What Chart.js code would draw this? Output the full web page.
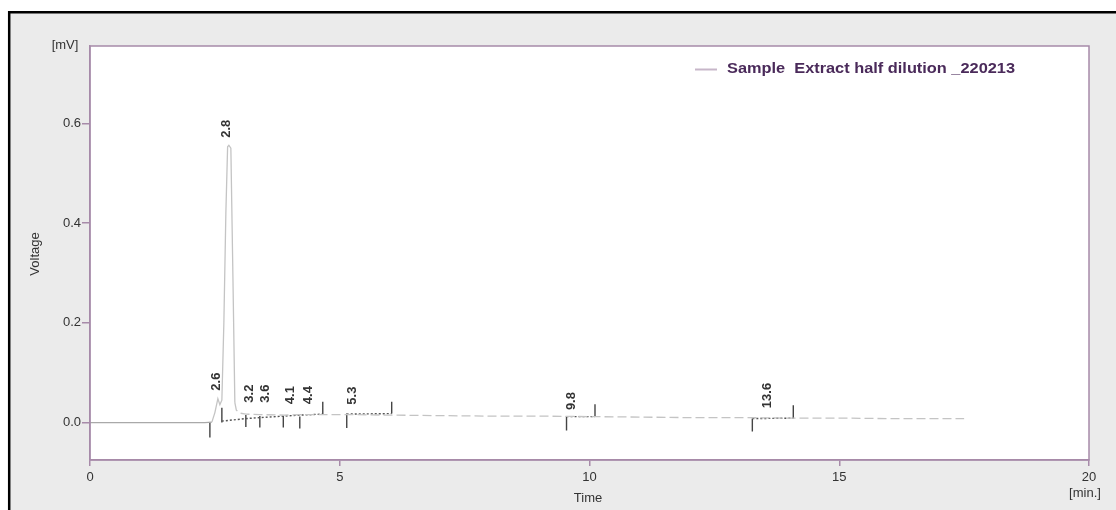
<!DOCTYPE html>
<html>
<head>
<meta charset="utf-8">
<script src="https://cdn.jsdelivr.net/npm/chart.js@4.4.0/dist/chart.umd.min.js"></script>
<style>
  html, body { margin: 0; padding: 0; background: #ffffff; }
  #wrap { width: 1116px; height: 510px; }
</style>
</head>
<body>
<div id="wrap"><canvas id="c" width="1116" height="510"></canvas></div>
<script>
// ---- data ----
const traceTimes  = [0, 2.30, 2.44, 2.50, 2.56, 2.60, 2.64, 2.68, 2.72, 2.755, 2.78, 2.82, 2.86, 2.90, 2.93, 3.00, 3.12, 3.40, 3.90, 4.30, 4.70, 5.20, 6.00, 7.00, 8.00, 9.00, 10.0, 11.0, 12.0, 13.0, 14.0, 15.0, 16.0, 17.0, 17.5];
const traceValues = [0, 0, 0.001, 0.020, 0.048, 0.036, 0.045, 0.200, 0.420, 0.553, 0.556, 0.550, 0.300, 0.040, 0.025, 0.019, 0.017, 0.016, 0.015, 0.016, 0.016, 0.016, 0.015, 0.014, 0.013, 0.013, 0.012, 0.011, 0.010, 0.010, 0.009, 0.009, 0.008, 0.008, 0.008];

const markerTimes = [2.40, 2.64, 3.12, 3.40, 3.87, 4.20, 4.66, 5.14, 6.04, 9.54, 10.11, 13.26, 14.08];
const markerFrom  = [0.000, 0.030, 0.015, 0.013, 0.013, 0.012, 0.016, 0.018, 0.018, 0.013, 0.012, 0.008, 0.008];
const markerTo    = [-0.030, 0.000, -0.009, -0.010, -0.010, -0.012, 0.042, -0.011, 0.042, -0.016, 0.037, -0.018, 0.035];

const baseTimes  = [2.64, 3.12, 3.40, 3.87, 4.20, 4.66, null, 5.14, 6.04, null, 9.54, 10.11, null, 13.26, 14.08];
const baseValues = [0.003, 0.008, 0.010, 0.013, 0.015, 0.017, null, 0.017, 0.018, null, 0.012, 0.012, null, 0.008, 0.009];

const peakLabels     = ['2.6', '2.8', '3.2', '3.6', '4.1', '4.4', '5.3', '9.8', '13.6'];
const peakLabelTimes = [2.53, 2.74, 3.19, 3.52, 4.02, 4.38, 5.25, 9.64, 13.57];
const peakLabelBase  = [0.064, 0.571, 0.040, 0.040, 0.037, 0.037, 0.036, 0.025, 0.029];

const xTicks = [0, 5, 10, 15, 20];
const yTicks = [0.0, 0.2, 0.4, 0.6];
const seriesName = 'Sample  Extract half dilution _220213';

// ---- build datasets ----
const tracePts = traceTimes.map((t, i) => ({ x: t, y: traceValues[i] }));
const markerPts = [];
markerTimes.forEach((t, i) => {
  markerPts.push({ x: t, y: markerFrom[i] });
  markerPts.push({ x: t, y: markerTo[i] });
  markerPts.push({ x: t, y: null });
});
const basePts = baseTimes.map((t, i) => ({ x: t === null ? baseTimes[i - 1] : t, y: baseValues[i] }));

const FONT = '"Liberation Sans", Arial, sans-serif';
const PURPLE = '#a78aa9';

function stretchedText(ctx, text, x, y, width) {
  const w = ctx.measureText(text).width;
  ctx.save();
  ctx.translate(x, y);
  ctx.scale(width / w, 1);
  ctx.fillText(text, 0, 0);
  ctx.restore();
}

const decor = {
  id: 'decor',
  beforeDraw(chart) {
    const ctx = chart.ctx, a = chart.chartArea;
    ctx.save();
    ctx.fillStyle = '#ffffff';
    ctx.fillRect(0, 0, chart.width, chart.height);
    ctx.fillStyle = '#ebebeb';
    ctx.fillRect(9, 12, chart.width - 9, chart.height - 12);
    ctx.strokeStyle = '#000000';
    ctx.lineWidth = 2.5;
    ctx.beginPath();
    ctx.moveTo(9.2, chart.height);
    ctx.lineTo(9.2, 12.2);
    ctx.lineTo(chart.width, 12.2);
    ctx.stroke();
    ctx.fillStyle = '#ffffff';
    ctx.fillRect(a.left, a.top, a.right - a.left, a.bottom - a.top);
    ctx.restore();
  },
  afterDraw(chart) {
    const ctx = chart.ctx, a = chart.chartArea;
    const xs = chart.scales.x, ys = chart.scales.y;
    ctx.save();
    // frame
    ctx.strokeStyle = PURPLE;
    ctx.lineWidth = 1.5;
    ctx.strokeRect(a.left, a.top, a.right - a.left, a.bottom - a.top);
    // peak labels (rotated)
    ctx.fillStyle = '#333333';
    ctx.font = 'bold 13px ' + FONT;
    ctx.textAlign = 'left';
    ctx.textBaseline = 'middle';
    peakLabels.forEach((lab, i) => {
      const px = xs.getPixelForValue(peakLabelTimes[i]);
      const py = ys.getPixelForValue(peakLabelBase[i]);
      ctx.save();
      ctx.translate(px, py);
      ctx.rotate(-Math.PI / 2);
      ctx.fillText(lab, 0, 0);
      ctx.restore();
    });
    // legend
    ctx.strokeStyle = '#c7b6c9';
    ctx.lineWidth = 2;
    ctx.beginPath();
    ctx.moveTo(695, 69.5);
    ctx.lineTo(717, 69.5);
    ctx.stroke();
    ctx.fillStyle = '#4a2a5a';
    ctx.font = 'bold 14px ' + FONT;
    ctx.textAlign = 'left';
    ctx.textBaseline = 'middle';
    stretchedText(ctx, seriesName, 727, 69, 288);
    // axis titles
    ctx.fillStyle = '#333333';
    ctx.font = '13px ' + FONT;
    ctx.textAlign = 'center';
    ctx.fillText('[mV]', 65, 45);
    ctx.fillText('Time', 588, 498);
    ctx.fillText('[min.]', 1085, 493);
    ctx.save();
    ctx.translate(35, 254);
    ctx.rotate(-Math.PI / 2);
    ctx.fillText('Voltage', 0, 0);
    ctx.restore();
    ctx.restore();
  }
};

new Chart(document.getElementById('c'), {
  type: 'line',
  data: {
    datasets: [
      {
        label: seriesName,
        data: tracePts,
        borderColor: '#bdbdbd',
        borderWidth: 1.3,
        pointRadius: 0,
        tension: 0,
        segment: {
          borderDash: ctx => (ctx.p0.parsed.x >= 2.9 ? [9, 4] : undefined),
          borderColor: ctx => (ctx.p0.parsed.x < 2.4 ? '#a9a9a9' : '#c4c4c4')
        }
      },
      {
        label: 'baseline',
        data: basePts,
        borderColor: '#555555',
        borderWidth: 1.4,
        borderDash: [2, 2],
        pointRadius: 0,
        spanGaps: false
      },
      {
        label: 'markers',
        data: markerPts,
        borderColor: '#444444',
        borderWidth: 1.4,
        pointRadius: 0,
        spanGaps: false
      }
    ]
  },
  options: {
    responsive: false,
    animation: false,
    parsing: true,
    layout: { padding: { left: 0, top: 46, right: 27, bottom: 0 } },
    plugins: { legend: { display: false }, tooltip: { enabled: false } },
    scales: {
      x: {
        type: 'linear',
        min: 0, max: 20,
        afterBuildTicks: s => { s.ticks = xTicks.map(v => ({ value: v })); },
        afterFit: s => { s.height = 50; },
        ticks: { color: '#333333', font: { family: FONT, size: 13 }, padding: 4, maxRotation: 0,
                 callback: v => String(v) },
        grid: { display: true, drawOnChartArea: false, drawTicks: true, tickLength: 6, color: PURPLE, lineWidth: 1.5 },
        border: { display: true, color: PURPLE, width: 1.5 }
      },
      y: {
        type: 'linear',
        min: -0.075, max: 0.755,
        afterBuildTicks: s => { s.ticks = yTicks.map(v => ({ value: v })); },
        afterFit: s => { s.width = 90; },
        ticks: { color: '#333333', font: { family: FONT, size: 13 }, padding: 1,
                 callback: v => Number(v).toFixed(1) },
        grid: { display: true, drawOnChartArea: false, drawTicks: true, tickLength: 8, color: PURPLE, lineWidth: 1.5 },
        border: { display: true, color: PURPLE, width: 1.5 }
      }
    }
  },
  plugins: [decor]
});
</script>
</body>
</html>
